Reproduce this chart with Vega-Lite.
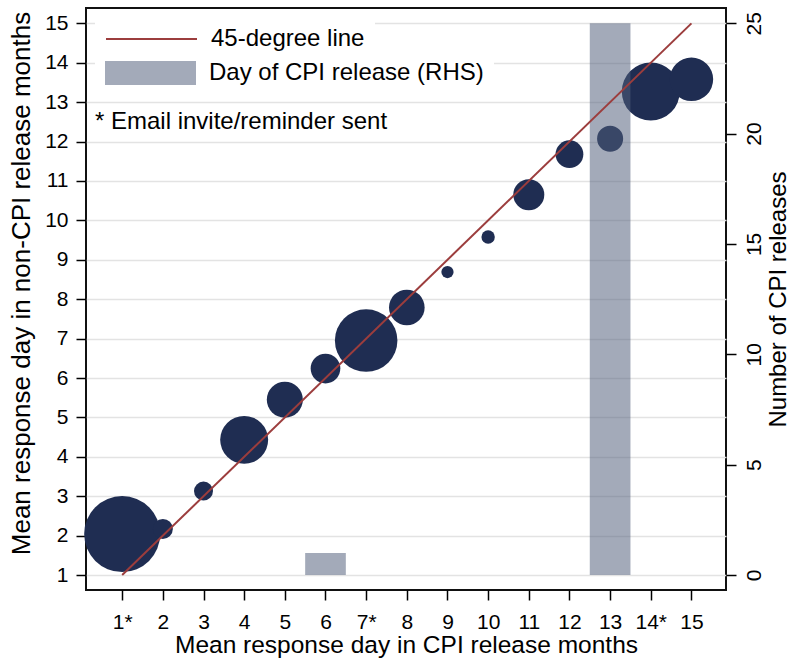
{
  "$schema": "https://vega.github.io/schema/vega-lite/v6.json",
  "width": 640,
  "height": 582,
  "autosize": {"type": "none"},
  "padding": {"left": 86, "top": 8, "right": 66, "bottom": 68},
  "background": "white",
  "config": {
    "font": "Liberation Sans",
    "view": {"stroke": "#111111", "strokeWidth": 2},
    "axis": {
      "labelFont": "Liberation Sans",
      "titleFont": "Liberation Sans",
      "labelColor": "#000000",
      "titleColor": "#000000",
      "labelFontSize": 21,
      "titleFontSize": 24.5,
      "titleFontWeight": "normal",
      "tickColor": "#000000",
      "tickWidth": 1.5,
      "tickSize": 10,
      "domain": false,
      "grid": false
    },
    "legend": {
      "orient": "none",
      "legendX": 9,
      "fillColor": "white",
      "padding": 10,
      "labelFont": "Liberation Sans",
      "labelFontSize": 24,
      "labelColor": "#000000",
      "labelOffset": 13,
      "labelLimit": 500,
      "symbolSize": 8281,
      "symbolStrokeWidth": 2,
      "clipHeight": 24,
      "rowPadding": 10,
      "title": null
    }
  },
  "datasets": {
    "bubbles": [
      {"cpi_day": 1, "noncpi_day": 2.04, "weight": 57.8},
      {"cpi_day": 2, "noncpi_day": 2.17, "weight": 4.0},
      {"cpi_day": 3, "noncpi_day": 3.13, "weight": 3.6},
      {"cpi_day": 4, "noncpi_day": 4.43, "weight": 23.0},
      {"cpi_day": 5, "noncpi_day": 5.45, "weight": 13.0},
      {"cpi_day": 6, "noncpi_day": 6.24, "weight": 8.8},
      {"cpi_day": 7, "noncpi_day": 6.95, "weight": 39.1},
      {"cpi_day": 8, "noncpi_day": 7.79, "weight": 12.7},
      {"cpi_day": 9, "noncpi_day": 8.69, "weight": 1.5},
      {"cpi_day": 10, "noncpi_day": 9.58, "weight": 1.8},
      {"cpi_day": 11, "noncpi_day": 10.65, "weight": 9.6},
      {"cpi_day": 12, "noncpi_day": 11.68, "weight": 7.7},
      {"cpi_day": 13, "noncpi_day": 12.07, "weight": 6.8},
      {"cpi_day": 14, "noncpi_day": 13.27, "weight": 33.6},
      {"cpi_day": 15, "noncpi_day": 13.58, "weight": 18.9}
    ],
    "releases": [
      {"cpi_day": 6, "releases": 1, "series": "Day of CPI release (RHS)"},
      {"cpi_day": 13, "releases": 25, "series": "Day of CPI release (RHS)"}
    ],
    "diagonal": [
      {"cpi_day": 1, "noncpi_day": 1, "series": "45-degree line"},
      {"cpi_day": 15, "noncpi_day": 15, "series": "45-degree line"}
    ],
    "note": [
      {"note": "* Email invite/reminder sent"}
    ]
  },
  "layer": [
    {
      "data": {"name": "bubbles"},
      "mark": {"type": "circle", "color": "#1f2d52", "opacity": 1, "strokeWidth": 0},
      "encoding": {
        "x": {
          "field": "cpi_day",
          "type": "quantitative",
          "scale": {"domain": [0.11, 15.85], "nice": false, "zero": false, "padding": 0},
          "axis": {
            "values": [1, 2, 3, 4, 5, 6, 7, 8, 9, 10, 11, 12, 13, 14, 15],
            "labelExpr": "indexof([1, 7, 14], datum.value) >= 0 ? datum.value + '*' : datum.value + ''",
            "title": "Mean response day in CPI release months",
            "labelPadding": 11,
            "titlePadding": 1.5,
            "labelFlush": false,
            "labelOverlap": false
          }
        },
        "y": {
          "field": "noncpi_day",
          "type": "quantitative",
          "scale": {"domain": [0.62, 15.39], "nice": false, "zero": false},
          "axis": {
            "orient": "left",
            "values": [1, 2, 3, 4, 5, 6, 7, 8, 9, 10, 11, 12, 13, 14, 15],
            "grid": true,
            "gridColor": "#e3e3e3",
            "gridWidth": 1.3,
            "title": "Mean response day in non-CPI release months",
            "titleFontSize": 26,
            "titleY": 275,
            "labelPadding": 8,
            "titlePadding": 10,
            "labelFlush": false,
            "labelOverlap": false
          }
        },
        "size": {
          "field": "weight",
          "type": "quantitative",
          "scale": {"type": "linear", "domain": [0, 60], "range": [0, 6000], "zero": true},
          "legend": null
        }
      }
    },
    {
      "data": {"name": "releases"},
      "mark": {"type": "bar", "orient": "vertical", "size": 40.67, "opacity": 0.53},
      "encoding": {
        "x": {"field": "cpi_day", "type": "quantitative"},
        "y": {
          "field": "releases",
          "type": "quantitative",
          "scale": {"domain": [-0.68, 25.69], "nice": false, "zero": false},
          "axis": {
            "orient": "right",
            "values": [0, 5, 10, 15, 20, 25],
            "labelAngle": 270,
            "labelAlign": "center",
            "labelBaseline": "top",
            "labelPadding": 7,
            "title": "Number of CPI releases",
            "titleFontSize": 24,
            "titleAngle": 270,
            "titleBaseline": "top",
            "titlePadding": 2,
            "labelFlush": false,
            "labelOverlap": false
          }
        },
        "y2": {"datum": 0},
        "fill": {
          "field": "series",
          "type": "nominal",
          "scale": {"domain": ["Day of CPI release (RHS)"], "range": ["#525e7a"]},
          "legend": {
            "legendY": 43,
            "symbolType": "M-1,-0.264H1V0.264H-1Z",
            "symbolStrokeWidth": 0
          }
        }
      }
    },
    {
      "data": {"name": "diagonal"},
      "mark": {"type": "line", "strokeWidth": 2},
      "encoding": {
        "x": {"field": "cpi_day", "type": "quantitative"},
        "y": {
          "field": "noncpi_day",
          "type": "quantitative",
          "scale": {"domain": [0.62, 15.39], "nice": false, "zero": false},
          "axis": null
        },
        "stroke": {
          "field": "series",
          "type": "nominal",
          "scale": {"domain": ["45-degree line"], "range": ["#9c3d3d"]},
          "legend": {
            "legendY": 9,
            "symbolType": "stroke",
            "labelExpr": "datum.label + '\u00a0\u00a0\u00a0\u00a0\u00a0\u00a0\u00a0\u00a0\u00a0\u00a0\u00a0\u00a0\u00a0\u00a0\u00a0\u00a0\u00a0\u00a0\u00a0'"
          }
        }
      }
    },
    {
      "data": {"name": "note"},
      "mark": {"type": "text", "align": "left", "baseline": "alphabetic", "fontSize": 24, "font": "Liberation Sans", "color": "#000000"},
      "encoding": {
        "x": {"datum": 0.33, "type": "quantitative"},
        "y": {
          "datum": 12.32,
          "type": "quantitative",
          "scale": {"domain": [0.62, 15.39], "nice": false, "zero": false},
          "axis": null
        },
        "text": {"field": "note", "type": "nominal"}
      }
    }
  ],
  "resolve": {"scale": {"y": "independent"}, "axis": {"y": "independent"}}
}
